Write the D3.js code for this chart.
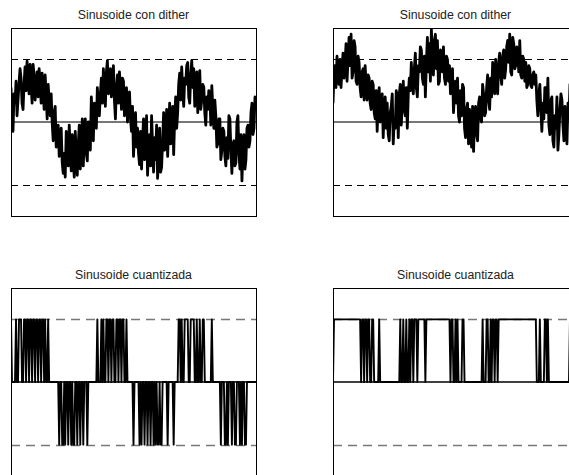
<!DOCTYPE html>
<html>
<head>
<meta charset="utf-8">
<script src="https://cdn.jsdelivr.net/npm/d3@7"></script>
<style>
  html, body { margin: 0; padding: 0; background: #fff; overflow: hidden; }
  svg { display: block; }
</style>
</head>
<body>
<svg id="chart" width="569" height="475"></svg>
<script>
// ---- Data ----
const titles = ["Sinusoide con dither", "Sinusoide con dither", "Sinusoide cuantizada", "Sinusoide cuantizada"];
const yDomain = [-1.5, 1.5];
const refLevels = [1, -1];      // dashed reference levels
const zeroLevel = [0];          // solid zero level

// Dithered sinusoid, left panel
const ditherA = [0.55,0.10,-0.15,0.45,0.30,0.65,0.10,0.35,0.62,0.85,
 0.70,0.30,0.20,0.60,0.88,0.50,0.97,0.70,0.45,0.92,
 0.60,0.30,0.92,0.75,0.35,0.55,0.80,0.40,0.85,0.65,
 0.30,0.78,0.52,0.20,0.75,0.45,0.05,0.60,0.35,0.10,
 0.45,0.00,-0.30,0.15,0.25,-0.40,-0.20,-0.05,-0.55,-0.30,
 -0.10,-0.65,-0.82,-0.50,-0.88,-0.15,-0.25,-0.70,-0.05,-0.45,
 -0.78,-0.20,-0.60,-0.88,-0.15,-0.50,-0.85,-0.35,-0.05,-0.75,
 -0.40,0.05,-0.70,-0.25,0.05,-0.50,-0.62,0.00,-0.20,-0.45,
 0.40,0.05,-0.30,0.30,0.15,-0.10,0.55,0.25,0.10,0.45,
 0.70,0.30,0.85,0.50,0.25,0.80,0.98,0.45,0.60,0.85,
 0.40,0.70,0.90,0.35,0.05,0.55,0.75,0.30,0.80,0.55,
 0.20,0.70,0.65,0.10,0.40,0.55,0.00,0.30,0.48,0.05,
 -0.15,0.25,-0.55,-0.20,0.15,-0.40,-0.10,-0.50,-0.68,-0.15,
 -0.75,-0.30,0.05,-0.60,-0.45,0.10,-0.85,-0.40,-0.20,-0.70,
 0.10,-0.35,-0.80,-0.25,-0.60,-0.05,-0.90,-0.55,-0.10,-0.80,
 -0.72,-0.30,0.15,-0.45,-0.30,0.20,-0.55,-0.10,0.30,-0.35,
 -0.20,0.25,-0.52,0.05,0.40,-0.10,0.15,0.60,0.78,0.35,
 0.88,0.50,0.25,0.70,0.60,0.90,0.95,0.40,0.30,0.75,
 0.98,0.55,0.85,0.25,0.40,0.80,0.15,0.50,0.82,0.20,
 0.35,0.60,0.56,0.15,-0.05,0.40,0.20,0.50,0.45,-0.05,
 0.58,0.20,-0.10,0.35,0.10,-0.40,-0.35,0.05,0.05,-0.60,
 -0.45,-0.10,-0.15,-0.55,-0.70,-0.25,-0.58,0.10,0.05,-0.45,
 -0.82,-0.35,-0.30,-0.70,-0.65,0.00,0.10,-0.50,-0.75,-0.20,
 -0.94,-0.45,-0.20,-0.75,-0.60,-0.10,-0.05,-0.40,-0.30,0.15,
 0.30,-0.20,-0.10,0.40,0.35];

// Dithered sinusoid with offset, right panel
const ditherB = [0.30,0.75,0.90,0.55,1.05,0.70,0.60,1.00,0.55,0.85,
 1.10,0.70,0.95,1.25,0.65,1.00,1.35,0.90,1.40,0.70,
 0.80,1.30,1.20,0.65,0.60,1.05,0.95,0.55,0.40,0.80,
 0.85,0.35,0.90,0.60,0.35,0.75,0.70,0.30,0.20,0.65,
 0.60,0.15,0.05,0.50,-0.15,0.35,0.55,0.00,0.10,0.45,
 -0.25,0.20,0.40,-0.10,0.30,-0.20,-0.30,0.15,0.25,0.45,
 -0.35,0.05,-0.10,0.50,0.40,-0.25,0.45,0.60,-0.05,0.30,
 0.65,0.20,0.10,0.55,-0.10,0.45,0.70,0.50,0.95,0.60,
 0.45,0.85,1.10,0.55,0.40,0.90,0.80,1.20,1.15,0.70,
 0.60,1.05,0.40,0.95,1.35,0.80,1.25,0.65,1.48,1.00,
 0.75,1.30,1.40,0.85,1.30,0.60,0.65,1.15,1.10,0.80,
 1.20,0.70,0.60,1.05,1.00,0.65,0.90,0.45,0.55,0.85,
 0.15,0.45,0.65,0.30,0.70,0.10,0.00,0.50,0.10,0.60,
 0.55,-0.10,-0.25,0.20,0.30,-0.35,0.20,-0.15,-0.40,0.25,
 -0.47,0.10,0.25,-0.20,-0.30,0.30,0.40,0.05,0.00,0.60,
 0.45,0.10,0.15,0.55,0.75,0.35,0.20,0.70,0.40,0.95,
 0.85,0.45,1.00,0.60,0.45,0.95,1.10,0.75,0.60,1.05,
 1.15,0.70,0.85,1.20,1.30,0.95,1.40,0.80,0.75,1.35,
 1.25,0.85,0.90,1.20,1.10,0.80,1.30,0.75,0.70,1.05,
 1.00,0.65,0.95,0.55,0.60,0.90,0.85,0.58,0.55,0.75,
 0.80,0.60,0.75,0.35,0.10,0.45,0.60,0.20,-0.15,0.30,
 0.05,0.55,0.55,0.15,0.70,-0.05,-0.20,0.35,0.40,-0.30,
 -0.40,0.10,-0.10,0.40,-0.45,-0.20,0.20,0.45,0.35,-0.05,
 -0.30,0.25,-0.10,-0.35,0.30,0.05,0.60,0.35,0.10,0.55,
 0.70,0.40,0.25,0.65,0.80];

// Quantized sinusoid, left panel
const quantA = [1,0,0,0,0,1,0,0,1,1,
 1,0,0,1,1,0,1,1,0,1,
 1,0,1,1,0,1,1,0,1,1,
 0,1,1,0,1,0,0,1,0,0,
 0,0,0,0,0,0,0,0,-1,0,
 0,-1,-1,0,-1,0,0,-1,0,0,
 -1,0,-1,-1,0,0,-1,0,0,-1,
 0,0,-1,0,0,0,-1,0,0,0,
 0,0,0,0,0,0,1,0,0,0,
 1,0,1,0,0,1,1,0,1,1,
 0,1,1,0,0,1,1,0,1,1,
 0,1,1,0,0,1,0,0,0,0,
 0,0,-1,0,0,0,0,0,-1,0,
 -1,0,0,-1,0,0,-1,0,0,-1,
 0,0,-1,0,-1,0,-1,-1,0,-1,
 -1,0,0,0,0,0,-1,0,0,0,
 0,0,-1,0,0,0,0,1,1,0,
 1,0,0,1,1,1,1,0,0,1,
 1,1,1,0,0,1,0,0,1,0,
 0,1,1,0,0,0,0,0,0,0,
 1,0,0,0,0,0,0,0,0,-1,
 0,0,0,-1,-1,0,-1,0,0,0,
 -1,0,0,-1,-1,0,0,0,-1,0,
 -1,0,0,-1,-1,0,0,0,0,0,
 0,0,0,0,0];

// Quantized sinusoid, right panel
const quantB = [0,1,1,1,1,1,1,1,1,1,
 1,1,1,1,1,1,1,1,1,1,
 1,1,1,1,1,1,1,1,0,1,
 1,0,1,1,0,1,1,0,0,1,
 1,0,0,0,0,0,1,0,0,0,
 0,0,0,0,0,0,0,0,0,0,
 0,0,0,0,0,0,0,1,0,0,
 1,0,0,1,0,0,1,0,1,1,
 0,1,1,1,0,1,1,1,1,1,
 1,1,0,1,1,1,1,1,1,1,
 1,1,1,1,1,1,1,1,1,1,
 1,1,1,1,1,1,1,0,1,1,
 0,0,1,0,1,0,0,0,0,1,
 1,0,0,0,0,0,0,0,0,0,
 0,0,0,0,0,0,0,0,0,1,
 0,0,0,1,1,0,0,1,0,1,
 1,0,1,1,0,1,1,1,1,1,
 1,1,1,1,1,1,1,1,1,1,
 1,1,1,1,1,1,1,1,1,1,
 1,1,1,1,1,1,1,1,1,1,
 1,1,1,0,0,0,1,0,0,0,
 0,1,1,0,1,0,0,0,0,0,
 0,0,0,0,0,0,0,0,0,0,
 0,0,0,0,0,0,1,0,0,1,
 1,0,0,1,1];

// ---- Layout ----
const svg = d3.select("#chart");
const W = 245, H = 188;
const panels = [
  {x: 11,  y: 28,  data: ditherA, title: titles[0], kind: "dither"},
  {x: 333, y: 28,  data: ditherB, title: titles[1], kind: "dither"},
  {x: 11,  y: 288, data: quantA,  title: titles[2], kind: "quant"},
  {x: 333, y: 288, data: quantB,  title: titles[3], kind: "quant"}
];

panels.forEach((p, k) => {
  const g = svg.append("g").attr("transform", `translate(${p.x},${p.y})`);
  const x = d3.scaleLinear().domain([0, p.data.length - 1]).range([0, W]);
  const y = d3.scaleLinear().domain(yDomain).range([H, 0]);

  const clipId = "clip" + k;
  g.append("clipPath").attr("id", clipId)
    .append("rect").attr("x", 0).attr("y", 0).attr("width", W).attr("height", H);

  const inner = g.append("g").attr("clip-path", `url(#${clipId})`);

  // dashed reference lines
  inner.selectAll("line.ref").data(refLevels).join("line")
    .attr("class", "ref")
    .attr("x1", 0).attr("x2", W)
    .attr("y1", d => Math.round(y(d)) + 0.5).attr("y2", d => Math.round(y(d)) + 0.5)
    .attr("stroke", p.kind === "dither" ? "#000" : "#777")
    .attr("stroke-width", p.kind === "dither" ? 1 : 1.5)
    .attr("stroke-dasharray", p.kind === "dither" ? "7,5" : "9,6");

  // zero line
  inner.selectAll("line.zero").data(zeroLevel).join("line")
    .attr("class", "zero")
    .attr("x1", 0).attr("x2", W)
    .attr("y1", d => y(d)).attr("y2", d => y(d))
    .attr("stroke", p.kind === "dither" ? "#777" : "#000")
    .attr("stroke-width", p.kind === "dither" ? 2 : 1.5);

  // signal
  const line = d3.line()
    .x((d, i) => x(i))
    .y(d => y(d));

  inner.append("path")
    .datum(p.data)
    .attr("d", line)
    .attr("fill", "none")
    .attr("stroke", "#000")
    .attr("stroke-width", p.kind === "dither" ? 2.8 : 1.9)
    .attr("stroke-linejoin", "round");

  // box
  g.append("rect")
    .attr("x", 0.5).attr("y", 0.5)
    .attr("width", W).attr("height", H)
    .attr("fill", "none").attr("stroke", "#000").attr("stroke-width", 1);

  // title
  g.append("text")
    .attr("x", W / 2).attr("y", -9)
    .attr("text-anchor", "middle")
    .attr("font-family", "'Liberation Sans', Arial, Helvetica, sans-serif")
    .attr("font-size", 12.3)
    .attr("fill", "#222")
    .text(p.title);
});
</script>
</body>
</html>
